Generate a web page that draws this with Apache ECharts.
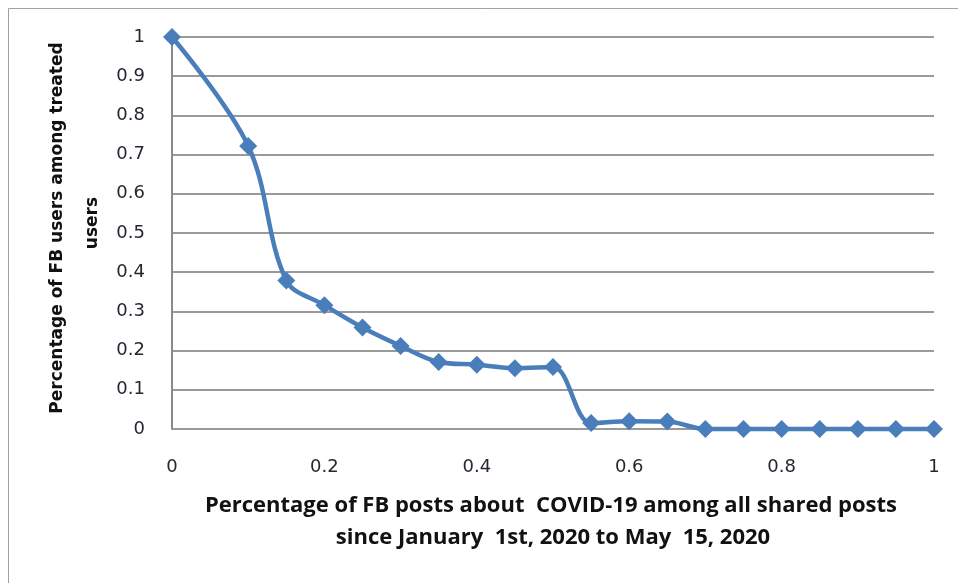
<!DOCTYPE html>
<html>
<head>
<meta charset="utf-8">
<script src="https://cdn.jsdelivr.net/npm/echarts@6/dist/echarts.min.js"></script>
<style>
  html, body { margin: 0; padding: 0; background: #ffffff; }
  #chart { width: 958px; height: 583px; }
</style>
</head>
<body>
<div id="chart"></div>
<script>
// Share of COVID-19 posts (x) vs. share of treated FB users (y)
const postShare = [0, 0.1, 0.15, 0.2, 0.25, 0.3, 0.35, 0.4, 0.45, 0.5,
                   0.55, 0.6, 0.65, 0.7, 0.75, 0.8, 0.85, 0.9, 0.95, 1];
const userShare = [1.0, 0.722, 0.379, 0.316, 0.259, 0.212, 0.171, 0.164, 0.155, 0.158,
                   0.015, 0.02, 0.019, 0, 0, 0, 0, 0, 0, 0];

const xTitleLines = [
  'Percentage of FB posts about  COVID-19 among all shared posts',
  'since January  1st, 2020 to May  15, 2020'
];
const yTitleLines = ['Percentage of FB users among treated', 'users'];

const points = postShare.map((x, i) => [x, userShare[i]]);

const chart = echarts.init(document.getElementById('chart'), null, { renderer: 'canvas' });

const tickFont = {
  fontFamily: 'DejaVu Sans',
  fontSize: 18,
  color: '#262633'
};

chart.setOption({
  backgroundColor: '#ffffff',
  animation: false,
  grid: { left: 172, right: 24, top: 37, bottom: 154, containLabel: false },
  xAxis: {
    type: 'value',
    min: 0, max: 1, interval: 0.2,
    axisLine: { show: false },
    axisTick: { show: false },
    splitLine: { show: false },
    axisLabel: Object.assign({ margin: 29 }, tickFont)
  },
  yAxis: {
    type: 'value',
    min: 0, max: 1, interval: 0.1,
    axisLine: { show: true, onZero: false, lineStyle: { color: '#8a8a8a', width: 2 } },
    axisTick: { show: false },
    splitLine: { show: true, lineStyle: { color: '#9a9a9a', width: 2 } },
    axisLabel: Object.assign({ margin: 27 }, tickFont)
  },
  graphic: [
    {
      type: 'rect',
      shape: { x: 8.5, y: 8.5, width: 1000, height: 1000 },
      style: { fill: null, stroke: '#a0a0a0', lineWidth: 1 },
      silent: true, z: -1
    },
    {
      type: 'text',
      x: 551, y: 506,
      style: {
        text: xTitleLines[0],
        font: 'bold 22px "Open Sans"',
        fill: '#111111',
        textAlign: 'center', textVerticalAlign: 'middle'
      }
    },
    {
      type: 'text',
      x: 553, y: 538,
      style: {
        text: xTitleLines[1],
        font: 'bold 22px "Open Sans"',
        fill: '#111111',
        textAlign: 'center', textVerticalAlign: 'middle'
      }
    },
    {
      type: 'text',
      x: 58, y: 228, rotation: Math.PI / 2,
      style: {
        text: yTitleLines[0],
        font: 'bold 17px "DejaVu Sans"',
        fill: '#111111',
        textAlign: 'center', textVerticalAlign: 'middle'
      }
    },
    {
      type: 'text',
      x: 93, y: 223, rotation: Math.PI / 2,
      style: {
        text: yTitleLines[1],
        font: 'bold 17px "DejaVu Sans"',
        fill: '#111111',
        textAlign: 'center', textVerticalAlign: 'middle'
      }
    }
  ],
  series: [{
    type: 'line',
    data: points,
    smooth: 0.35,
    clip: false,
    symbol: 'diamond',
    symbolSize: 18,
    lineStyle: { color: '#4a7ebb', width: 4.5 },
    itemStyle: { color: '#4a7ebb' }
  }]
});
</script>
</body>
</html>
